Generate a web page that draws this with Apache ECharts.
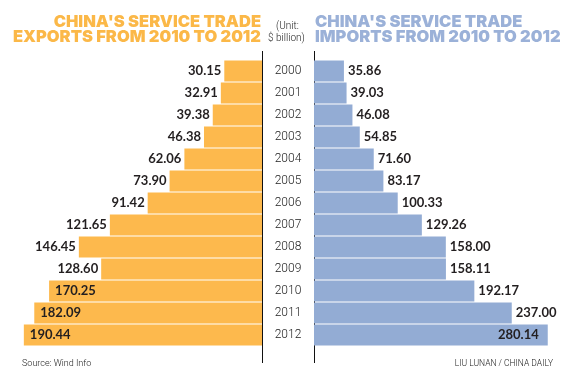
<!DOCTYPE html>
<html>
<head>
<meta charset="utf-8">
<script src="https://cdn.jsdelivr.net/npm/echarts@6/dist/echarts.min.js"></script>
<style>
  html, body { margin: 0; padding: 0; background: #fff; }
  #chart { width: 576px; height: 376px; }
</style>
</head>
<body>
<div id="chart"></div>
<script>
  // data, $ billion
  var years = ['2000', '2001', '2002', '2003', '2004', '2005', '2006',
               '2007', '2008', '2009', '2010', '2011', '2012'];
  var exportsData = [30.15, 32.91, 39.38, 46.38, 62.06, 73.90, 91.42,
                     121.65, 146.45, 128.60, 170.25, 182.09, 190.44];
  var importsData = [35.86, 39.03, 46.08, 54.85, 71.60, 83.17, 100.33,
                     129.26, 158.00, 158.11, 192.17, 237.00, 280.14];

  var orange = '#fdb94d';
  var blue = '#93acd4';
  var valueFont = { fontFamily: 'Lato', fontWeight: 'bold', fontSize: 13, color: '#231f20' };
  var titleFont = { fontFamily: 'Inter', fontWeight: 900, fontSize: 16.5 };
  var smallFont = { fontFamily: 'Roboto', fontWeight: 300, color: '#222' };

  var chart = echarts.init(document.getElementById('chart'));

  var option = {
    animation: false,
    title: [
      // one title per line so each line can be aligned on its own
      { text: "CHINA'S SERVICE TRADE", right: 315, top: 14, padding: 0,
        textStyle: Object.assign({ color: '#fbb848' }, titleFont) },
      { text: 'EXPORTS FROM 2010 TO 2012', right: 315, top: 29, padding: 0,
        textStyle: Object.assign({ color: '#fbb848' }, titleFont) },
      { text: "CHINA'S SERVICE TRADE", left: 315, top: 14, padding: 0,
        textStyle: Object.assign({ color: '#9bb1d8' }, titleFont) },
      { text: 'IMPORTS FROM 2010 TO 2012', left: 315, top: 29, padding: 0,
        textStyle: Object.assign({ color: '#9bb1d8' }, titleFont) },
      { text: '(Unit:', left: 276, top: 21, padding: 0,
        textStyle: Object.assign({ fontSize: 10 }, smallFont) },
      { text: '$ billion)', left: 268, top: 33, padding: 0,
        textStyle: Object.assign({ fontSize: 10 }, smallFont) },
      { text: 'Source: Wind Info', left: 22, top: 359, padding: 0,
        textStyle: Object.assign({ fontSize: 9 }, smallFont) },
      { text: 'LIU LUNAN / CHINA DAILY', right: 23, top: 359, padding: 0,
        textStyle: Object.assign({ fontSize: 8.5 }, smallFont) }
    ],
    grid: [
      { left: 0, right: 314, top: 60, bottom: 30 },
      { left: 314, right: 0, top: 60, bottom: 30 }
    ],
    xAxis: [
      { gridIndex: 0, type: 'value', inverse: true, min: 0, max: 209.5, show: false },
      { gridIndex: 1, type: 'value', min: 0, max: 314, show: false }
    ],
    yAxis: [
      {
        gridIndex: 0, type: 'category', data: years, inverse: true, position: 'right',
        axisLine: { show: false }, axisTick: { show: false },
        axisLabel: Object.assign({ align: 'center', margin: 26, fontSize: 12 }, smallFont)
      },
      {
        gridIndex: 1, type: 'category', data: years, inverse: true, position: 'left',
        axisLine: { show: false }, axisTick: { show: false }, axisLabel: { show: false }
      }
    ],
    graphic: [
      { type: 'line', shape: { x1: 262.5, y1: 51, x2: 262.5, y2: 363 }, style: { stroke: '#111', lineWidth: 1 } },
      { type: 'line', shape: { x1: 314.5, y1: 51, x2: 314.5, y2: 363 }, style: { stroke: '#111', lineWidth: 1 } }
    ],
    series: [
      {
        name: 'Exports',
        type: 'bar',
        xAxisIndex: 0,
        yAxisIndex: 0,
        barWidth: 21,
        itemStyle: { color: orange },
        data: exportsData.map(function (v, i) {
          return i >= 10 ? { value: v, label: { position: 'insideLeft', distance: 6 } } : v;
        }),
        label: Object.assign({
          show: true,
          position: 'left',
          distance: 3,
          formatter: function (p) { return p.value.toFixed(2); }
        }, valueFont)
      },
      {
        name: 'Imports',
        type: 'bar',
        xAxisIndex: 1,
        yAxisIndex: 1,
        barWidth: 21,
        itemStyle: { color: blue },
        data: importsData.map(function (v, i) {
          return i === 12 ? { value: v, label: { position: 'insideRight', distance: 9 } } : v;
        }),
        label: Object.assign({
          show: true,
          position: 'right',
          distance: 4,
          formatter: function (p) { return p.value.toFixed(2); }
        }, valueFont)
      }
    ]
  };

  chart.setOption(option);
</script>
</body>
</html>
